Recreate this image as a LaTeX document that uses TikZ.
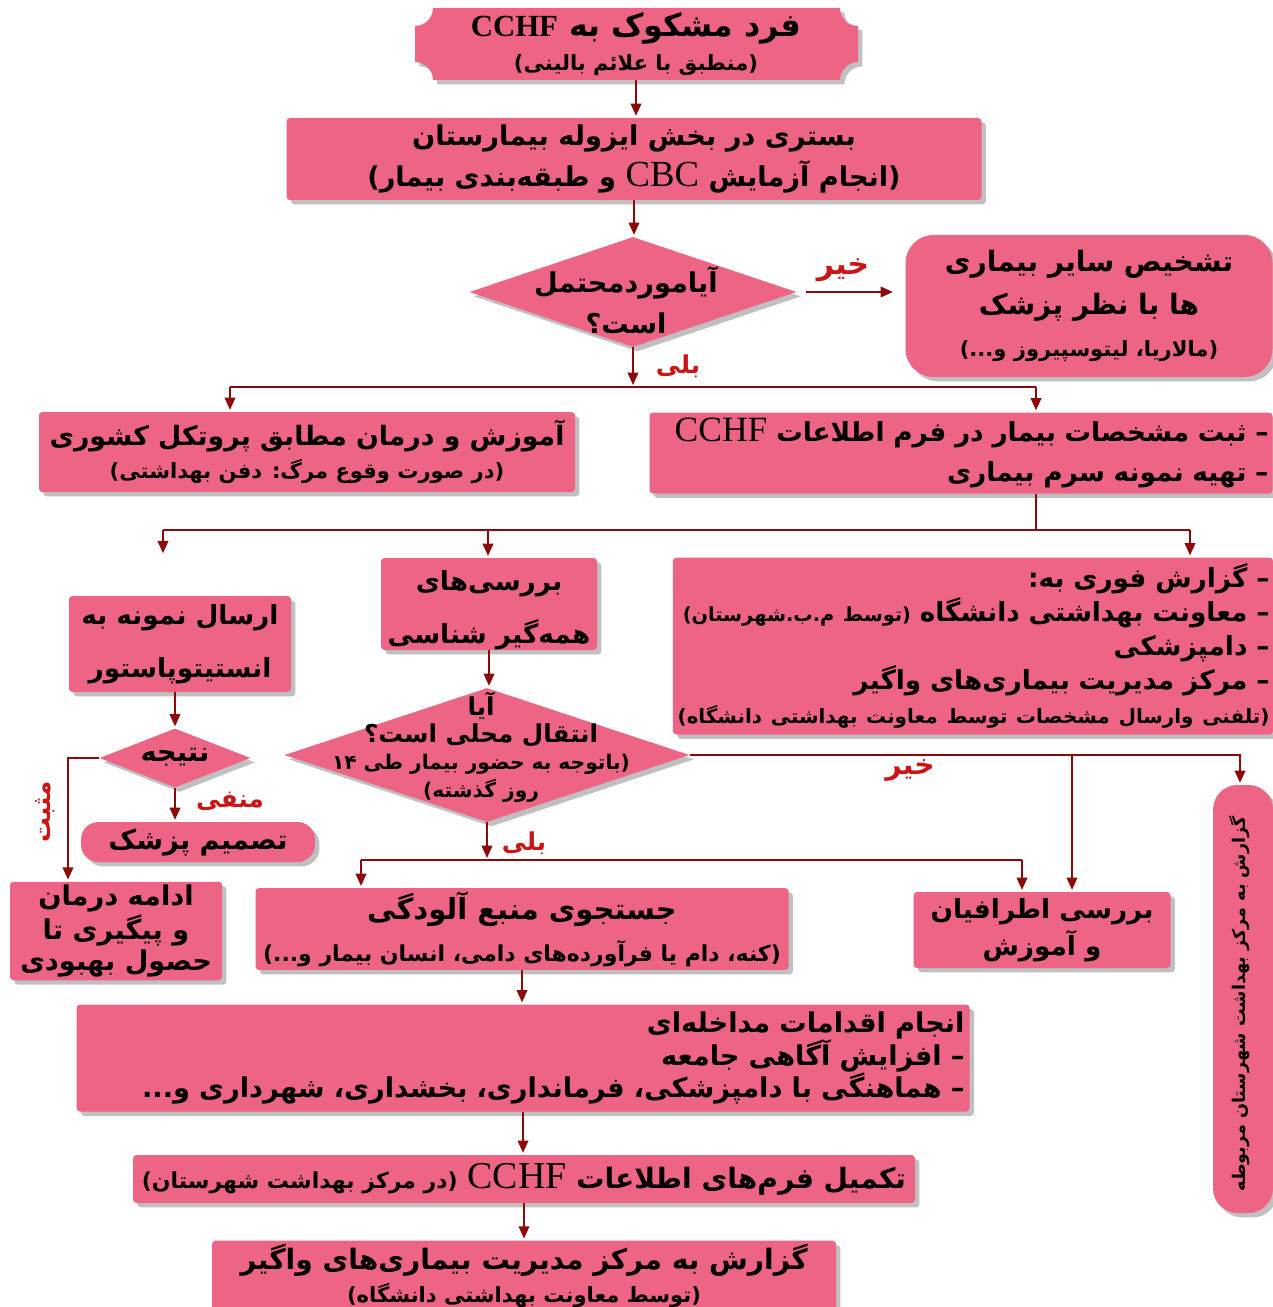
\documentclass[tikz,border=0pt]{standalone}
\usepackage{fontspec}
\usetikzlibrary{shapes.geometric,arrows.meta,shadows,calc}
\TeXXeTstate=1
\newfontfamily\fa[Script=Arabic]{DejaVu Sans}
\newfontfamily\lat[Scale=1.35]{Liberation Serif}
\newfontfamily\latB{Liberation Serif}
\newcommand{\FA}[1]{\beginR #1\endR}
\newcommand{\LT}[1]{\beginL{\lat\mdseries #1}\endL}
\newcommand{\sm}{\fontsize{12}{16}\selectfont}
\definecolor{pinkc}{RGB}{238,100,133}
\definecolor{arrc}{RGB}{140,10,10}
\definecolor{labc}{RGB}{205,20,20}
\tikzset{
  shad/.style={drop shadow={shadow xshift=2.5pt,shadow yshift=-2.5pt,opacity=0.35,fill=black!70}},
  box/.style={fill=pinkc, rounded corners=2pt, shad,
    align=center, inner sep=2pt, text=black,
    font=\fa\bfseries\fontsize{15.5}{23}\selectfont},
  dia/.style={diamond, fill=pinkc, inner sep=0pt, shad},
  txt/.style={align=center, inner sep=0pt, text=black,
    font=\fa\bfseries\fontsize{15.5}{23}\selectfont},
  arr/.style={draw=arrc, line width=1.1pt, -{Triangle[length=7pt,width=6pt]}, shorten >=1pt},
  ln/.style={draw=arrc, line width=1.1pt},
  lab/.style={text=labc, inner sep=0pt, font=\fa\bfseries\fontsize{14}{15}\selectfont},
  sz/.style 2 args={minimum width=#1*0.02cm, minimum height=#2*0.02cm}
}
\begin{document}
\begin{tikzpicture}[x=0.02cm,y=-0.02cm]
\useasboundingbox[fill=white] (0,0) rectangle (1273,1307);

% top plaque (concave corners)
\fill[pinkc, shad] (433,8) -- (840,8) .. controls (840,17.9) and (848.1,26) .. (858,26)
  -- (858,62) .. controls (848.1,62) and (840,70.1) .. (840,80)
  -- (433,80) .. controls (433,70.1) and (424.9,62) .. (415,62)
  -- (415,26) .. controls (424.9,26) and (433,17.9) .. (433,8) -- cycle;
\node[txt, sz={443}{72}, font=\fa\bfseries\fontsize{18}{19.5}\selectfont] (top) at (636,44)
  {\FA{فرد مشکوک به \beginL{\latB\bfseries\fontsize{17.5}{19}\selectfont CCHF}\endL}\\ {\sm\FA{(منطبق با علائم بالینی)}}};

\node[box, sz={695}{82}] (b2) at (634,159)
  {\FA{بستری در بخش ایزوله بیمارستان}\\ \FA{(انجام آزمایش \LT{CBC} و طبقه‌بندی بیمار)}};
\node[dia, sz={327}{110}] (d1) at (633,292) {};
\node[txt] (d1t) at (626,300) {\FA{آیاموردمحتمل}\\ \FA{است؟}};
\node[box, sz={367}{142}, rounded corners=16pt, font=\fa\bfseries\fontsize{16}{24}\selectfont] (r1) at (1089,306)
  {\FA{تشخیص سایر بیماری}\\ \FA{ها با نظر پزشک}\\ {\sm\FA{(مالاریا، لیتوسپیروز و...)}}};
\node[box, sz={536}{80}, font=\fa\bfseries\fontsize{15.2}{19}\selectfont] (l5) at (307,452)
  {\FA{آموزش و درمان مطابق پروتکل کشوری}\\ {\sm\FA{(در صورت وقوع مرگ: دفن بهداشتی)}}};
\node[box, sz={623}{81}, text width=615*0.02cm, align=right, font=\fa\bfseries\fontsize{15}{23}\selectfont] (r6) at (961,453)
  {\FA{– ثبت مشخصات بیمار در فرم اطلاعات \LT{CCHF}}\\ \FA{– تهیه نمونه سرم بیماری}};
\node[box, sz={599}{177}, text width=593*0.02cm, align=right, font=\fa\bfseries\fontsize{15}{19.3}\selectfont] (b7) at (973,646)
  {\FA{– گزارش فوری به:}\\ \FA{– معاونت بهداشتی دانشگاه {\fontsize{11}{14}\selectfont(توسط م.ب.شهرستان)}}\\ \FA{– دامپزشکی}\\ \FA{– مرکز مدیریت بیماری‌های واگیر}\\ {\fontsize{11.3}{14}\selectfont\FA{(تلفنی وارسال مشخصات توسط معاونت بهداشتی دانشگاه)}}};
\node[box, sz={216}{92}, font=\fa\bfseries\fontsize{15}{30}\selectfont] (b8) at (489,604) {};
\node[txt, font=\fa\bfseries\fontsize{15}{30}\selectfont] (b8t) at (489,610)
  {\FA{بررسی‌های}\\ \FA{همه‌گیر شناسی}};
\node[dia, sz={405}{134}] (d2) at (487,755) {};
\node[txt, font=\fa\bfseries\fontsize{14}{15.5}\selectfont] (d2t) at (481,747)
  {\FA{آیا}\\ \FA{انتقال محلی است؟}\\ {\fontsize{11.5}{14}\selectfont\FA{(باتوجه به حضور بیمار طی ۱۴}}\\ {\fontsize{11.5}{14}\selectfont\FA{روز گذشته)}}};
\node[box, sz={222}{96}, font=\fa\bfseries\fontsize{15}{30.5}\selectfont] (b10) at (180,644)
  {\FA{ارسال نمونه به}\\ \FA{انستیتوپاستور}};
\node[dia, sz={151}{59}] (d3) at (175,758) {};
\node[txt, font=\fa\bfseries\fontsize{15.5}{18}\selectfont] (d3t) at (175,757) {\FA{نتیجه}};
\node[box, sz={234}{40}, rounded corners=10pt, font=\fa\bfseries\fontsize{15.5}{18}\selectfont] (tp) at (198,842) {\FA{تصمیم پزشک}};
\node[box, sz={212}{92}, font=\fa\bfseries\fontsize{15.5}{17.6}\selectfont] (b18) at (116,931)
  {\FA{ادامه درمان}\\ \FA{و پیگیری تا}\\ \FA{حصول بهبودی}};
\node[box, sz={60}{428}, rounded corners=14pt] (vb) at (1243,999) {};
\node[txt, rotate=90, font=\fa\bfseries\fontsize{10}{12}\selectfont] (vbt) at (1240,1004) {\FA{گزارش به مرکز بهداشت شهرستان مربوطه}};
\node[box, sz={533}{78}, font=\fa\bfseries\fontsize{16.5}{23.8}\selectfont] (b16) at (522,929)
  {\FA{جستجوی منبع آلودگی}\\ {\fontsize{12.5}{16}\selectfont\FA{(کنه، دام یا فرآورده‌های دامی، انسان بیمار و...)}}};
\node[box, sz={257}{76}, font=\fa\bfseries\fontsize{15}{21}\selectfont] (b17) at (1042,930)
  {\FA{بررسی اطرافیان}\\ \FA{و آموزش}};
\node[box, sz={893}{107}, text width=883*0.02cm, align=right, font=\fa\bfseries\fontsize{15.5}{18.7}\selectfont] (b19) at (523,1058)
  {\FA{انجام اقدامات مداخله‌ای}\\ \FA{– افزایش آگاهی جامعه}\\ \FA{– هماهنگی با دامپزشکی، فرمانداری، بخشداری، شهرداری و...}};
\node[box, sz={782}{48}, font=\fa\bfseries\fontsize{16}{20}\selectfont] (b20) at (524,1179)
  {\FA{تکمیل فرم‌های اطلاعات \LT{CCHF} {\fontsize{12.5}{16}\selectfont(در مرکز بهداشت شهرستان)}}};
\node[box, sz={624}{68}, font=\fa\bfseries\fontsize{16}{18.7}\selectfont] (b21) at (524,1276)
  {\FA{گزارش به مرکز مدیریت بیماری‌های واگیر}\\ {\sm\FA{(توسط معاونت بهداشتی دانشگاه)}}};

% labels
\node[lab, font=\fa\bfseries\fontsize{17}{18}\selectfont] (lno1) at (843,270) {\FA{خیر}};
\node[lab] (lyes1) at (678,366) {\FA{بلی}};
\node[lab] (lneg) at (230,801) {\FA{منفی}};
\node[lab, rotate=90] (lpos) at (45,812) {\FA{مثبت}};
\node[lab, font=\fa\bfseries\fontsize{16}{18}\selectfont] (lno2) at (910,770) {\FA{خیر}};
\node[lab] (lyes2) at (524,843) {\FA{بلی}};

% connectors
\draw[arr] (top.south) -- (top.south |- b2.north);
\draw[arr] (b2.south) -- (b2.south |- d1.north);
\draw[arr, shorten <=5pt, shorten >=7pt] (d1.east) -- (d1.east -| r1.west);
\coordinate (j1) at (633,385);
\draw[arr, shorten >=0pt] (d1.south) -- (j1);
\coordinate (j1L) at (230,387);
\coordinate (j1R) at (1036,387);
\draw[ln] (j1L) -- (j1R);
\draw[arr] (j1L) -- (j1L |- l5.north);
\draw[arr] (j1R) -- (j1R |- r6.north);
\coordinate (j2) at (1036,530);
\draw[ln] (j1R |- r6.south) -- (j2);
\coordinate (j2L) at (163,530);
\coordinate (j2M) at (488,530);
\coordinate (j2R) at (1190,530);
\coordinate (e10) at (163,555);
\draw[ln] (j2L) -- (j2R);
\draw[arr] (j2L) -- (e10);
\draw[arr] (j2M) -- (j2M |- b8.north);
\draw[arr] (j2R) -- (j2R |- b7.north);
\draw[arr] (b8.south) -- (b8.south |- d2.north);
\draw[arr] (d3.north |- b10.south) -- (d3.north);
\draw[arr] (d3.south) -- (d3.south |- tp.north);
\coordinate (m1) at (68,758);
\draw[arr] (d3.west) -- (m1) -- (m1 |- b18.north);
\coordinate (n1) at (1240,755);
\coordinate (n2) at (1072,755);
\draw[arr] (d2.east) -- (n1) -- (n1 |- vb.north);
\draw[arr] (n2) -- (n2 |- b17.north);
\coordinate (j3) at (487,858);
\draw[arr, shorten >=0pt] (d2.south) -- (j3);
\coordinate (j3L) at (361,860);
\coordinate (j3R) at (1022,860);
\draw[ln] (j3L) -- (j3R);
\draw[arr] (j3L) -- (j3L |- b16.north);
\draw[arr] (j3R) -- (j3R |- b17.north);
\draw[arr] (b16.south) -- (b16.south |- b19.north);
\draw[arr] (b19.south) -- (b19.south |- b20.north);
\draw[arr] (b20.south) -- (b20.south |- b21.north);
\end{tikzpicture}
\end{document}
